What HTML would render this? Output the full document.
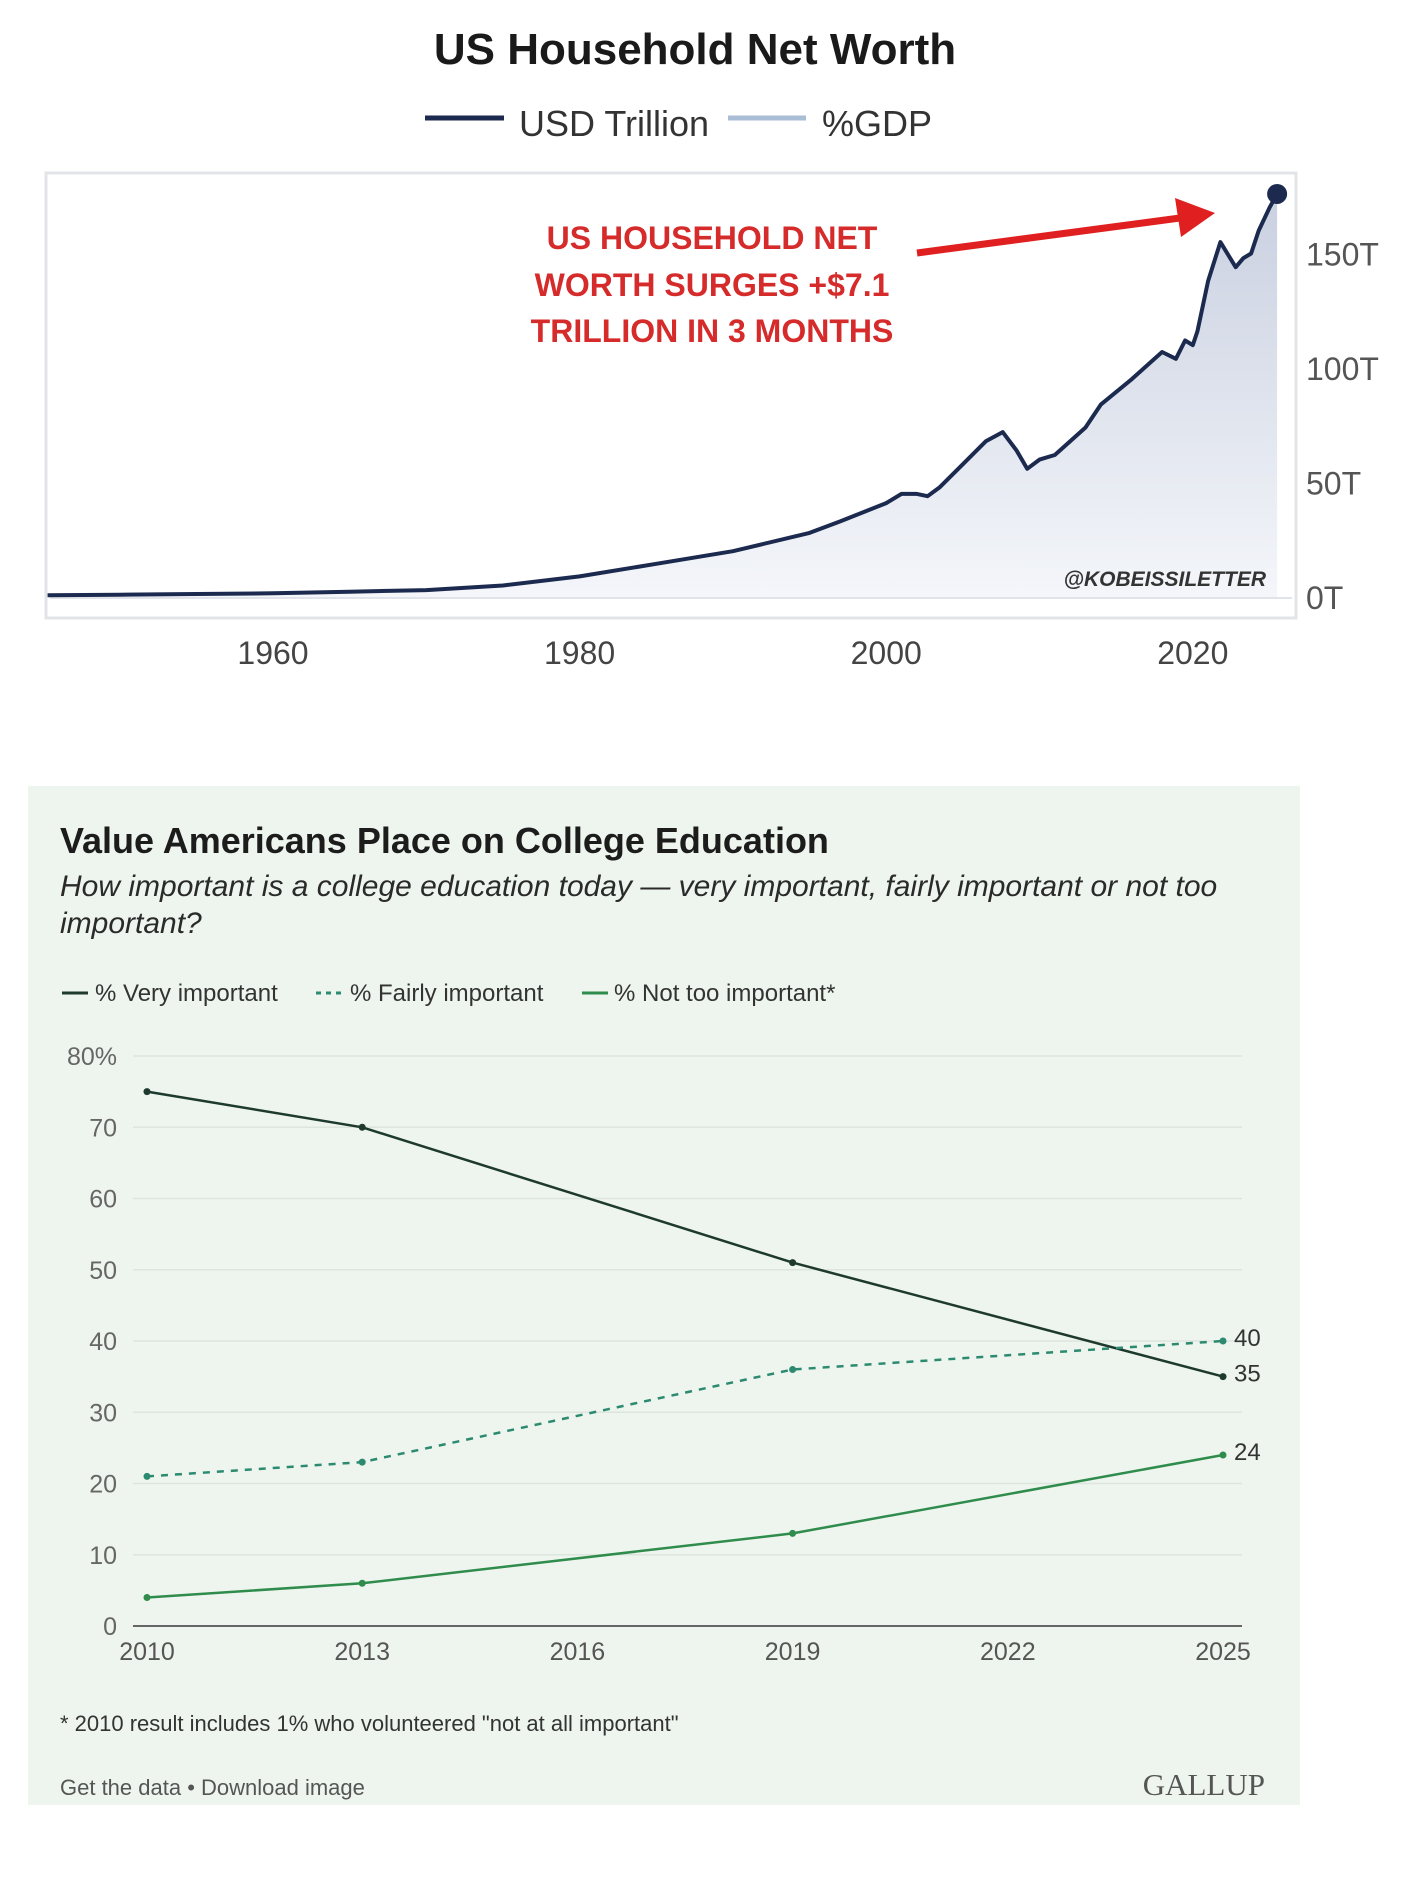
<!DOCTYPE html>
<html><head><meta charset="utf-8">
<style>
html,body{margin:0;padding:0;background:#fff;}
body{width:1407px;height:1898px;position:relative;overflow:hidden;font-family:"Liberation Sans",sans-serif;}
svg{position:absolute;left:0;top:0;}
</style></head>
<body>
<svg id="top" width="1407" height="700" viewBox="0 0 1407 700">
  <defs>
    <linearGradient id="fillg" x1="0" y1="0" x2="0" y2="1">
      <stop offset="0" stop-color="#c9d0e0"/>
      <stop offset="1" stop-color="#f4f6fa"/>
    </linearGradient>
  </defs>
  <text x="695" y="64" text-anchor="middle" font-family="Liberation Sans Narrow, Liberation Sans, sans-serif" font-size="44" font-weight="bold" fill="#1a1a1a">US Household Net Worth</text>
  <g>
    <line x1="425" y1="118" x2="504" y2="118" stroke="#1b2a4e" stroke-width="5"/>
    <text x="519" y="136" font-family="Liberation Sans Narrow, Liberation Sans, sans-serif" font-size="36" fill="#333">USD Trillion</text>
    <line x1="728" y1="118" x2="806" y2="118" stroke="#a9bdd6" stroke-width="5"/>
    <text x="822" y="136" font-family="Liberation Sans Narrow, Liberation Sans, sans-serif" font-size="36" fill="#333">%GDP</text>
  </g>
  <rect x="46" y="173" width="1250" height="445" fill="#fff" stroke="#e2e4e8" stroke-width="3"/>
  <g id="topPlot"></g>
  <g id="topAxes"></g>
  <g font-family="Liberation Sans Narrow, Liberation Sans, sans-serif" font-size="32" font-weight="bold" fill="#d62b2b" text-anchor="middle">
    <text x="712" y="249">US HOUSEHOLD NET</text>
    <text x="712" y="296">WORTH SURGES +$7.1</text>
    <text x="712" y="342">TRILLION IN 3 MONTHS</text>
  </g>
  <line x1="917" y1="253" x2="1180" y2="218" stroke="#e02020" stroke-width="7"/>
  <polygon points="1215,213 1175,198 1181,237" fill="#e02020"/>
  <text x="1266" y="586" text-anchor="end" font-family="Liberation Sans Narrow, Liberation Sans, sans-serif" font-size="21" font-weight="bold" font-style="italic" fill="#333">@KOBEISSILETTER</text>
</svg>

<svg id="bottom" width="1407" height="1898" viewBox="0 0 1407 1898" style="top:0">
  <rect x="28" y="786" width="1272" height="1019" fill="#eef5ee"/>
  <text x="60" y="853" font-size="36" font-weight="bold" fill="#1c1c1c">Value Americans Place on College Education</text>
  <text font-size="30" font-style="italic" fill="#2a2a2a">
    <tspan x="60" y="896">How important is a college education today — very important, fairly important or not too</tspan>
    <tspan x="60" y="933">important?</tspan>
  </text>
  <g font-size="24" fill="#333">
    <line x1="62" y1="993" x2="88" y2="993" stroke="#1e3a2f" stroke-width="3"/>
    <text x="95" y="1001">% Very important</text>
    <line x1="316" y1="993" x2="342" y2="993" stroke="#2b8a6f" stroke-width="3" stroke-dasharray="5,5"/>
    <text x="350" y="1001">% Fairly important</text>
    <line x1="582" y1="993" x2="608" y2="993" stroke="#2f8c4c" stroke-width="3"/>
    <text x="614" y="1001">% Not too important*</text>
  </g>
  <g id="botPlot"></g>
  <text x="60" y="1731" font-size="22" fill="#333">* 2010 result includes 1% who volunteered "not at all important"</text>
  <text x="60" y="1795" font-size="22" fill="#555">Get the data • Download image</text>
  <text x="1265" y="1795" text-anchor="end" font-family="Liberation Serif, serif" font-size="31" fill="#555">GALLUP</text>
</svg>

<script>
// ---- Top chart data ----
const nwYears = [1945.3,1950,1955,1960,1965,1970,1975,1980,1985,1990,1995,1997,2000,2001,2002,2002.7,2003.5,2005,2006.5,2007.6,2008.5,2009.2,2010,2011,2012,2013,2014,2016,2018,2018.9,2019.5,2020,2020.3,2021,2021.8,2022.8,2023.3,2023.8,2024.3,2025,2025.5];
const nwValues = [0.8,1.0,1.3,1.6,2.3,3,5,9,14.5,20,28,33,41,45,45,44,48,58,68,72,64,56,60,62,68,74,84,95,107,104,112,110,116,138,155,144,148,150,160,170,176];
const yTicks = [0,50,100,150];
const yTickLabels = ["0T","50T","100T","150T"];
const xTicks = [1960,1980,2000,2020];

const NS="http://www.w3.org/2000/svg";
function mk(tag, attrs, parent){const e=document.createElementNS(NS,tag);for(const k in attrs)e.setAttribute(k,attrs[k]);parent.appendChild(e);return e;}

const tx = yr => 273 + (yr-1960)*15.33;
const ty = v => 597 - v*2.29;
const tp = document.getElementById('topPlot');
const ta = document.getElementById('topAxes');
let d = '';
nwYears.forEach((y,i)=>{d += (i?'L':'M') + tx(y).toFixed(1)+','+ty(nwValues[i]).toFixed(1);});
const area = mk('path',{d: d + 'L'+tx(nwYears[nwYears.length-1])+','+ty(0)+'L'+tx(nwYears[0])+','+ty(0)+'Z', fill:'url(#fillg)'}, tp);


const base = mk('line',{x1:50,x2:1292,y1:ty(0)+1,y2:ty(0)+1,stroke:'#e0e3ea','stroke-width':2},tp);


const ln = mk('path',{d:d,fill:'none',stroke:'#1b2a4e','stroke-width':4,'stroke-linejoin':'round'},tp);


const li = nwYears.length-1;
const dot = mk('circle',{cx:tx(nwYears[li]),cy:ty(nwValues[li]),r:10,fill:'#1b2a4e'},tp);


yTicks.forEach((v,i)=>{
  const t = mk('text',{x:1306,y:ty(v)+12,'font-size':32,'font-family':'Liberation Sans Narrow, Liberation Sans, sans-serif',fill:'#555'},ta);
  t.textContent = yTickLabels[i];
  
  
});
xTicks.forEach(v=>{
  const t = mk('text',{x:tx(v),y:664,'font-size':32,'text-anchor':'middle','font-family':'Liberation Sans Narrow, Liberation Sans, sans-serif',fill:'#444'},ta);
  t.textContent = v;
  
  
});

// ---- Bottom chart data ----
const surveyYears = [2010,2013,2019,2025];
const veryImportant = [75,70,51,35];
const fairlyImportant = [21,23,36,40];
const notTooImportant = [4,6,13,24];
const bxTicks = [2010,2013,2016,2019,2022,2025];
const byTicks = [0,10,20,30,40,50,60,70,80];

const bx = yr => 147 + (yr-2010)*(1223-147)/15;
const by = v => 1626 - v*(1626-1056)/80;
const bp = document.getElementById('botPlot');
byTicks.forEach(v=>{
  const g = mk('line',{x1:133,x2:1242,y1:by(v),y2:by(v),stroke: v===0?'#666':'#dde5dd','stroke-width': v===0?2:1.5},bp);
  
  
  const t = mk('text',{x:117,y:by(v)+9,'text-anchor':'end','font-size':25,fill:'#666'},bp);
  t.textContent = v===80 ? '80%' : v;
  
  
});
bxTicks.forEach(v=>{
  const t = mk('text',{x:bx(v),y:1660,'text-anchor':'middle','font-size':25,fill:'#555'},bp);
  t.textContent = v;
  
  
});
function series(vals,color,dash,name){
  let p='';
  surveyYears.forEach((y,i)=>{p+=(i?'L':'M')+bx(y).toFixed(1)+','+by(vals[i]).toFixed(1);});
  const l = mk('path',{d:p,fill:'none',stroke:color,'stroke-width':2.5,'stroke-dasharray':dash||'none'},bp);
  
  
  surveyYears.forEach((y,i)=>{
    const c = mk('circle',{cx:bx(y),cy:by(vals[i]),r:3.5,fill:color},bp);
    
    
  });
  const last = vals.length-1;
  const t = mk('text',{x:1234,y:by(vals[last])+5,'font-size':24,fill:'#333'},bp);
  t.textContent = vals[last];
  
  
}
series(veryImportant,'#1e3a2f',null,'very-important');
series(fairlyImportant,'#2b8a6f','7,7','fairly-important');
series(notTooImportant,'#2f8c4c',null,'not-too-important');
</script>
</body></html>
